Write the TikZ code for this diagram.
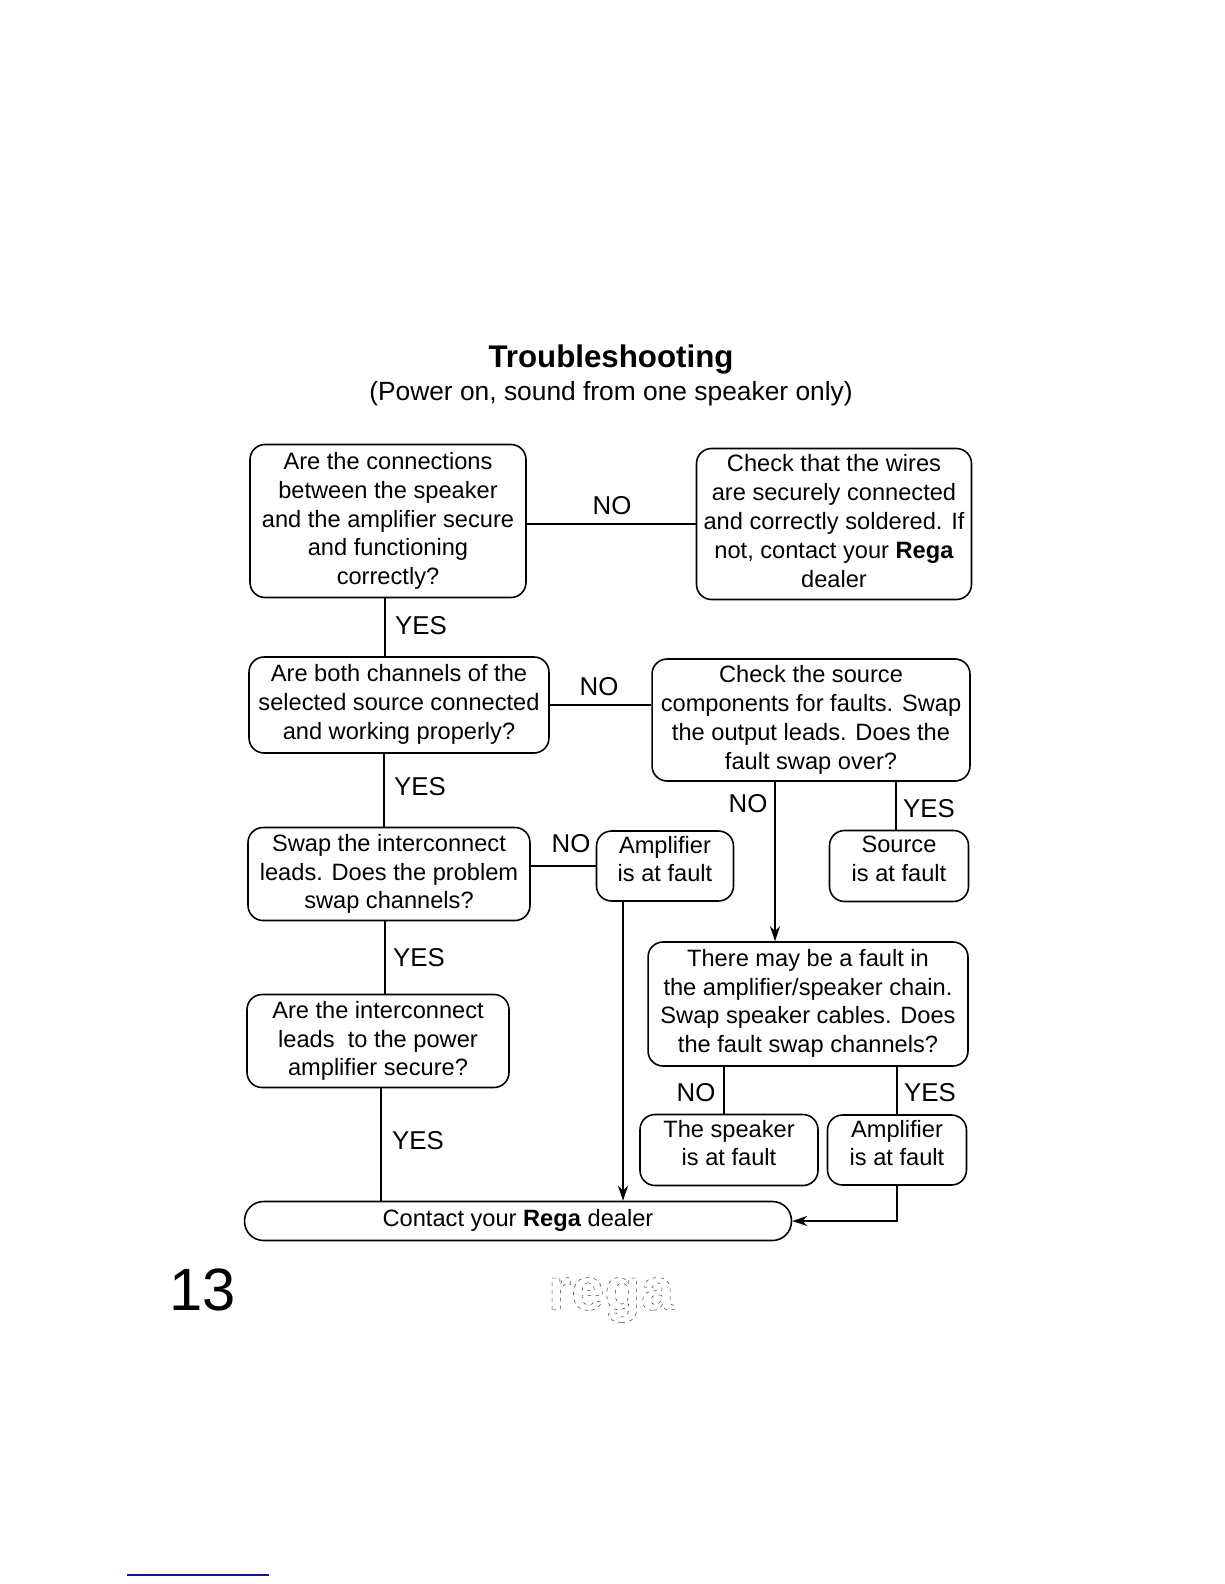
\documentclass[tikz,border=0pt]{standalone}
\usepackage{fontspec}
\usetikzlibrary{arrows.meta}
\setmainfont{Liberation Sans}
\definecolor{rule}{RGB}{20,20,150}
\newcommand{\lift}[1]{\\[#1]~}
\tikzset{
  fault/.style={draw, line width=0.9pt, rounded corners=0.3cm, align=center, inner sep=0pt,
    font=\fontsize{13.45}{16.4}\selectfont},
  answer/.style={font=\fontsize{14.7}{17}\selectfont},
  wire/.style={line width=0.8pt},
}
\begin{document}
\begin{tikzpicture}[>={Stealth[length=0.3cm, width=0.2cm]}, x=0.02cm, y=-0.02cm]
  \useasboundingbox (0,0) rectangle (1224,1584);
  \node[font=\bfseries\fontsize{17.8}{20}\selectfont] (title) at (611,359) {Troubleshooting};
  \node[font=\fontsize{15}{18}\selectfont] (subtitle) at (611,394) {(Power on, sound from one speaker only)};

  \node[fault, minimum width=5.52cm, minimum height=3.06cm] (wires) at (388,521) {Are the connections\\between the speaker\\and the amplifier secure\\and functioning\\correctly?};
  \node[fault, minimum width=5.5cm, minimum height=3.02cm] (check) at (834,524) {Check that the wires\\are securely connected\\and correctly soldered. If\\not, contact your \textbf{Rega}\\dealer\lift{-13pt}};
  \node[fault, minimum width=6cm, minimum height=1.92cm] (source) at (399,705) {Are both channels of the\\selected source connected\\and working properly?\lift{-13pt}};
  \node[fault, minimum width=6.36cm, minimum height=2.44cm] (swap) at (811,720) {Check the source\\components for faults. Swap\\the output leads. Does the\\fault swap over?};
  \node[fault, minimum width=5.64cm, minimum height=1.86cm] (leads) at (389,874) {Swap the interconnect\\leads. Does the problem\\swap channels?};
  \node[fault, minimum width=2.74cm, minimum height=1.4cm] (amp1) at (665,866) {Amplifier\\is at fault\lift{-8.4pt}};
  \node[fault, minimum width=2.78cm, minimum height=1.42cm] (src) at (899,866) {Source\\is at fault\lift{-8.4pt}};
  \node[fault, minimum width=6.4cm, minimum height=2.48cm] (chain) at (808,1004) {There may be a fault in\\the amplifier/speaker chain.\\Swap speaker cables. Does\\the fault swap channels?\lift{-13pt}};
  \node[fault, minimum width=5.24cm, minimum height=1.86cm] (power) at (378,1041) {Are the interconnect\\leads~ to the power\\amplifier secure?};
  \node[fault, minimum width=3.56cm, minimum height=1.42cm] (spk) at (729,1150) {The speaker\\is at fault\lift{-8.4pt}};
  \node[fault, minimum width=2.78cm, minimum height=1.4cm] (amp2) at (897,1150) {Amplifier\\is at fault\lift{-8.4pt}};
  \node[fault, rounded corners=0.38cm, minimum width=10.94cm, minimum height=0.78cm] (dealer) at (518,1221) {Contact your \textbf{Rega} dealer\lift{-13pt}};

  % answers
  \node[answer] (n1) at (612,506) {NO};
  \node[answer] (y1) at (421,626) {YES};
  \node[answer] (n2) at (599,687) {NO};
  \node[answer] (y2) at (420,787) {YES};
  \node[answer] (n3) at (748,804) {NO};
  \node[answer] (y3) at (929,809) {YES};
  \node[answer] (n4) at (571,844) {NO};
  \node[answer] (y4) at (419,958) {YES};
  \node[answer] (n5) at (696,1093) {NO};
  \node[answer] (y5) at (930,1093) {YES};
  \node[answer] (y6) at (418,1141) {YES};

  % drop lines
  \coordinate (d1) at (385,0);
  \coordinate (d2) at (384,0);
  \coordinate (d3) at (385,0);
  \coordinate (d4) at (381,0);
  \coordinate (d5) at (896,0);
  \coordinate (d6) at (775,0);
  \coordinate (d7) at (623,0);
  \coordinate (d8) at (724,0);
  \coordinate (d9) at (897,0);
  \draw[wire] (check.west -| wires.east) -- (check.west);
  \draw[wire] (source.east) -- (source.east -| swap.west);
  \draw[wire] (leads.east |- amp1.west) -- (amp1.west);
  \draw[wire] (d1 |- wires.south) -- (d1 |- source.north);
  \draw[wire] (d2 |- source.south) -- (d2 |- leads.north);
  \draw[wire] (d3 |- leads.south) -- (d3 |- power.north);
  \draw[wire] (d4 |- power.south) -- (d4 |- dealer.north);
  \draw[wire] (d5 |- swap.south) -- (d5 |- src.north);
  \draw[wire, ->] (d6 |- swap.south) -- (d6 |- chain.north);
  \draw[wire, ->] (d7 |- amp1.south) -- (d7 |- dealer.north);
  \draw[wire] (d8 |- chain.south) -- (d8 |- spk.north);
  \draw[wire] (d9 |- chain.south) -- (d9 |- amp2.north);
  \draw[wire, ->] (amp2.south) |- (dealer.east);

  \node[font=\fontsize{34}{36}\selectfont] (page) at (203,1290) {13};
  \node[black!75, font=\bfseries\fontsize{34}{36}\selectfont] (logo) at (611,1300)
    {\special{pdf:code 1 Tr 0.3 w [2 2.5] 0 d}rega\special{pdf:code 0 Tr [] 0 d}};
  \coordinate (r1) at (127,1575);
  \coordinate (r2) at (269,1575);
  \draw[rule, line width=0.7pt] (r1) -- (r2);
\end{tikzpicture}
\end{document}
